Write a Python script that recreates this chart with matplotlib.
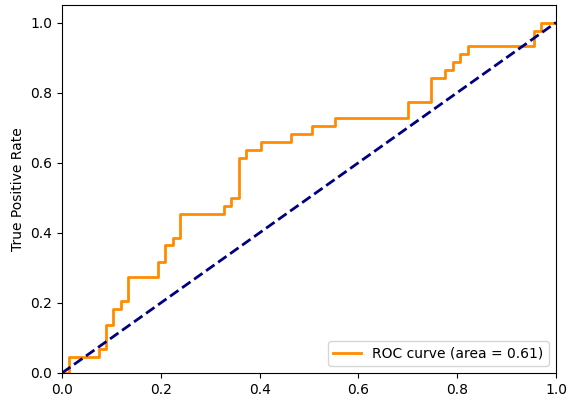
import matplotlib
matplotlib.use("Agg")
import matplotlib.pyplot as plt

fpr = [0.0, 0.015, 0.015, 0.075, 0.075, 0.090, 0.090, 0.104, 0.104, 0.119, 0.119,
       0.134, 0.134, 0.194, 0.194, 0.209, 0.209, 0.224, 0.224, 0.239, 0.239,
       0.328, 0.328, 0.343, 0.343, 0.358, 0.358, 0.373, 0.373, 0.403, 0.403,
       0.463, 0.463, 0.507, 0.507, 0.552, 0.552, 0.701, 0.701, 0.746, 0.746,
       0.776, 0.776, 0.791, 0.791, 0.806, 0.806, 0.821, 0.821, 0.955, 0.955,
       0.970, 0.970, 1.0]
tpr = [0.0, 0.0, 0.045, 0.045, 0.068, 0.068, 0.136, 0.136, 0.182, 0.182, 0.205,
       0.205, 0.273, 0.273, 0.318, 0.318, 0.364, 0.364, 0.386, 0.386, 0.455,
       0.455, 0.477, 0.477, 0.500, 0.500, 0.614, 0.614, 0.636, 0.636, 0.659,
       0.659, 0.682, 0.682, 0.705, 0.705, 0.727, 0.727, 0.773, 0.773, 0.841,
       0.841, 0.864, 0.864, 0.886, 0.886, 0.909, 0.909, 0.932, 0.932, 0.977,
       0.977, 1.0, 1.0]
roc_auc = 0.61
diag = [0, 1]

fig = plt.figure(figsize=(5.78, 4.0), dpi=100)
ax = fig.add_axes([62/578, 1-373/400, (556-62)/578, (373-5)/400])
ax.plot(fpr, tpr, color="darkorange", lw=2, label="ROC curve (area = %0.2f)" % roc_auc)
ax.plot(diag, diag, color="navy", lw=2, linestyle="--")
ax.set_xlim(0.0, 1.0)
ax.set_ylim(0.0, 1.05)
ax.set_ylabel("True Positive Rate")
ax.legend(loc="lower right")
fig.savefig("out.png", dpi=100)
